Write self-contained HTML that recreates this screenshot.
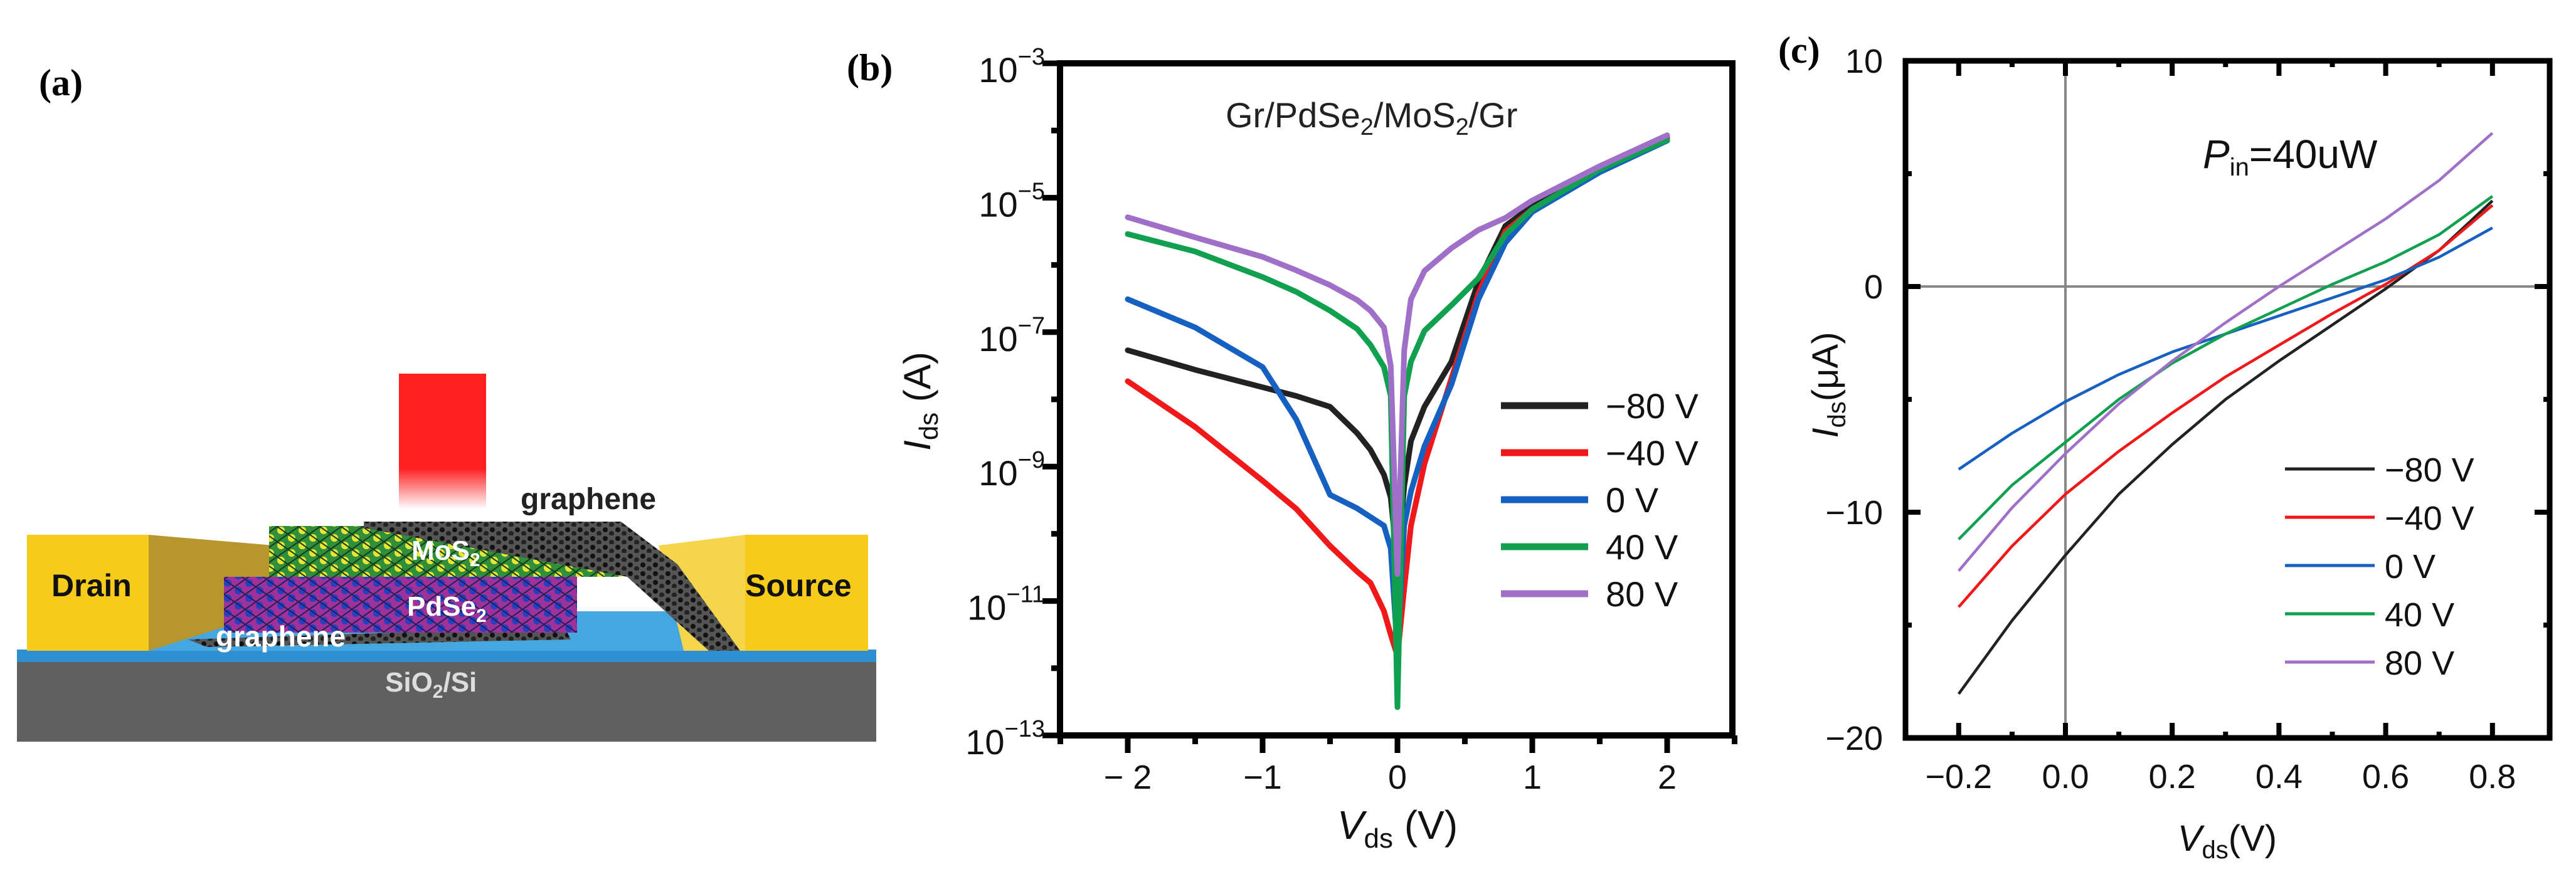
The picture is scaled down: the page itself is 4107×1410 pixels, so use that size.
<!DOCTYPE html>
<html><head><meta charset="utf-8"><style>
html,body{margin:0;padding:0;background:#fff;}
svg{display:block;}
text{font-family:"Liberation Sans",sans-serif;}
.ser{font-family:"Liberation Serif",serif;font-weight:bold;}
</style></head><body>
<svg id="fig" width="4107" height="1410" viewBox="0 0 4107 1410" xmlns="http://www.w3.org/2000/svg">
<defs>
<linearGradient id="beam" x1="0" y1="0" x2="0" y2="1">
<stop offset="0" stop-color="#ff2020"/><stop offset="0.7" stop-color="#ff2020"/><stop offset="1" stop-color="#ff2020" stop-opacity="0"/></linearGradient>
<pattern id="mos" width="34" height="24" patternUnits="userSpaceOnUse"><rect width="34" height="24" fill="#2f8f3a"/><circle cx="6" cy="6" r="6" fill="#e6e633"/><circle cx="23" cy="18" r="6" fill="#e6e633"/><path d="M0 0L34 24M34 0L0 24" stroke="#1a3a1a" stroke-width="2"/></pattern>
<pattern id="pdse" width="34" height="24" patternUnits="userSpaceOnUse"><rect width="34" height="24" fill="#a0309a"/><circle cx="6" cy="6" r="6" fill="#2540c0"/><circle cx="23" cy="18" r="6" fill="#2540c0"/><path d="M0 0L34 24M34 0L0 24" stroke="#20205a" stroke-width="2"/></pattern>
<pattern id="gra" width="20" height="14" patternUnits="userSpaceOnUse"><rect width="20" height="14" fill="#555"/><circle cx="5" cy="5" r="4" fill="#111"/><circle cx="15" cy="11" r="4" fill="#222"/></pattern>
</defs>

<g>
<text x="62" y="152" class="ser" font-size="60">(a)</text>
<rect x="636" y="596" width="139" height="216" fill="url(#beam)"/>
<rect x="27" y="1054" width="1370" height="129" fill="#606060"/>
<rect x="27" y="1036" width="1370" height="20" fill="#2f8fd0"/>
<polygon points="237,1038 330,975 1250,975 1384,1038" fill="#45a6e0"/>
<rect x="43" y="853" width="194" height="185" fill="#f6cb1c"/>
<polygon points="237,853 437,870 437,975 237,1038" fill="#b8962e"/>
<rect x="1188" y="853" width="196" height="185" fill="#f6cb1c"/>
<polygon points="1050,870 1188,853 1188,1038 1090,1038" fill="#f5d54c"/>
<polygon points="300,1020 900,1000 910,1020 330,1032" fill="url(#gra)"/>
<rect x="357" y="920" width="563" height="89" fill="url(#pdse)"/>
<rect x="429" y="839" width="562" height="81" fill="url(#mos)"/>
<polygon points="580,832 990,832 1080,900 1180,1038 1130,1038 1000,920 580,842" fill="url(#gra)"/>
<text x="830" y="812" font-size="48" font-weight="bold" fill="#222">graphene</text>
<text x="656" y="893" font-size="44" font-weight="bold" fill="#fff">MoS<tspan font-size="30" dy="10">2</tspan></text>
<text x="649" y="982" font-size="44" font-weight="bold" fill="#fff">PdSe<tspan font-size="30" dy="10">2</tspan></text>
<text x="344" y="1031" font-size="46" font-weight="bold" fill="#fff">graphene</text>
<text x="82" y="951" font-size="50" font-weight="bold" fill="#111">Drain</text>
<text x="1188" y="951" font-size="50" font-weight="bold" fill="#111">Source</text>
<text x="614" y="1103" font-size="44" font-weight="bold" fill="#ddd">SiO<tspan font-size="30" dy="10">2</tspan><tspan dy="-10">/Si</tspan></text>
</g>

<g id="pb"></g>
<g id="pc"></g>
</svg>
<script>
// ---------- Panel (b) data ----------
const bX = [-2,-1.5,-1,-0.75,-0.5,-0.3,-0.2,-0.1,-0.05,0,0.05,0.1,0.2,0.4,0.6,0.8,1,1.5,2];
const bNeg80 = [-7.27,-7.56,-7.82,-7.95,-8.11,-8.5,-8.75,-9.12,-9.46,-10.47,-9.29,-8.62,-8.11,-7.44,-6.25,-5.42,-5.12,-4.58,-4.11];
const bNeg40 = [-7.73,-8.41,-9.21,-9.63,-10.18,-10.56,-10.73,-11.15,-11.5,-11.82,-10.81,-9.88,-8.96,-7.69,-6.43,-5.5,-5.17,-4.58,-4.11];
const b0 = [-6.51,-6.93,-7.52,-8.3,-9.42,-9.62,-9.75,-9.88,-10.22,-11.74,-9.88,-9.37,-8.7,-7.78,-6.51,-5.67,-5.21,-4.62,-4.15];
const b40 = [-5.54,-5.8,-6.18,-6.4,-6.68,-6.95,-7.19,-7.52,-7.95,-12.58,-7.95,-7.44,-6.98,-6.6,-6.2,-5.55,-5.17,-4.58,-4.14];
const b80 = [-5.29,-5.59,-5.88,-6.08,-6.3,-6.52,-6.68,-6.93,-7.5,-10.6,-7.27,-6.51,-6.09,-5.75,-5.48,-5.3,-5.04,-4.53,-4.07];
const bSeriesNames = ["−80 V","−40 V","0 V","40 V","80 V"];
const bXTicks = [-2,-1,0,1,2];
const bXTickLabels = ["− 2","−1","0","1","2"];
const bYTicks = [-3,-5,-7,-9,-11,-13];
// ---------- Panel (c) data ----------
const cX = [-0.2,-0.1,0,0.1,0.2,0.3,0.4,0.5,0.6,0.7,0.8];
const cNeg80 = [-18.05,-14.8,-11.9,-9.2,-7.0,-5.0,-3.3,-1.7,-0.1,1.6,3.8];
const cNeg40 = [-14.2,-11.5,-9.2,-7.3,-5.6,-4.0,-2.6,-1.2,0.1,1.6,3.6];
const c0 = [-8.1,-6.5,-5.1,-3.9,-2.9,-2.1,-1.3,-0.5,0.3,1.3,2.6];
const c40 = [-11.2,-8.8,-6.9,-5.0,-3.4,-2.1,-1.0,0.1,1.1,2.3,4.0];
const c80 = [-12.6,-9.8,-7.4,-5.2,-3.3,-1.6,0.0,1.5,3.0,4.7,6.8];
const cSeriesNames = ["−80 V","−40 V","0 V","40 V","80 V"];
const cXTicks = [-0.2,0,0.2,0.4,0.6,0.8];
const cXTickLabels = ["−0.2","0.0","0.2","0.4","0.6","0.8"];
const cYTicks = [10,0,-10,-20];
const cYTickLabels = ["10","0","−10","−20"];
const colors = ["#222222","#f01818","#1560c0","#10a050","#a070c8"];

const NS="http://www.w3.org/2000/svg";
function mk(tag,attrs,parent){const e=document.createElementNS(NS,tag);for(const k in attrs)e.setAttribute(k,attrs[k]);parent.appendChild(e);return e;}

(function(){
const g=document.getElementById('pb');
const L=1690,R=2762,T=101,B=1173;
const xs=v=>2228+v*215;
const ys=l=>T+(-3-l)*107.2;
const lab=mk('text',{x:1350,y:128,'font-size':60,'class':'ser'},g);
lab.textContent='(b)';


const fr=mk('rect',{x:L,y:T,width:R-L,height:B-T,fill:'none',stroke:'#000','stroke-width':10},g);


for(let v=-2.5;v<=2.5;v+=0.5){
  const major=Math.abs(v-Math.round(v))<1e-6 && Math.abs(v)<=2;
  const t=mk('line',{x1:xs(v),x2:xs(v),y1:B,y2:B+(major?28:14),stroke:'#000','stroke-width':9},g);
  
  
}
bXTicks.forEach((v,i)=>{
  const t=mk('text',{x:xs(v),y:1258,'font-size':54,'text-anchor':'middle',fill:'#111'},g);
  t.textContent=bXTickLabels[i];
  
  
});
for(let d=-3;d>=-13;d--){
  const major=(d%2!==0);
  const t=mk('line',{x1:L,x2:L-(major?28:14),y1:ys(d),y2:ys(d),stroke:'#000','stroke-width':9},g);
  
  
}
bYTicks.forEach(d=>{
  const t=mk('text',{x:1666,y:ys(d)+30,'font-size':56,'text-anchor':'end',fill:'#111'},g);
  t.innerHTML='10<tspan font-size="38" dy="-28">−'+(-d)+'</tspan>';
  
  
});
const series=[bNeg80,bNeg40,b0,b40,b80];
series.forEach((s,i)=>{
  const pts=bX.map((v,j)=>xs(v).toFixed(1)+','+ys(s[j]).toFixed(1)).join(' ');
  const p=mk('polyline',{points:pts,fill:'none',stroke:colors[i],'stroke-width':9,'stroke-linejoin':'round','stroke-linecap':'round'},g);
  
  
});
bSeriesNames.forEach((n,i)=>{
  const y=647+i*75;
  const l=mk('line',{x1:2393,x2:2532,y1:y,y2:y,stroke:colors[i],'stroke-width':11},g);
  
  
  const t=mk('text',{x:2560,y:y+20,'font-size':56,fill:'#111'},g);
  t.textContent=n;
  
  
});
const ti=mk('text',{x:1954,y:203,'font-size':56,fill:'#222'},g);
ti.innerHTML='Gr/PdSe<tspan font-size="38" dy="12">2</tspan><tspan dy="-12">/MoS</tspan><tspan font-size="38" dy="12">2</tspan><tspan dy="-12">/Gr</tspan>';


const yl=mk('text',{x:0,y:0,'font-size':60,'text-anchor':'middle',fill:'#111',transform:'translate(1483,640) rotate(-90)'},g);
yl.innerHTML='<tspan font-style="italic">I</tspan><tspan font-size="42" dy="12">ds</tspan><tspan dy="-12"> (A)</tspan>';


const xl=mk('text',{x:2228,y:1338,'font-size':64,'text-anchor':'middle',fill:'#111'},g);
xl.innerHTML='<tspan font-style="italic">V</tspan><tspan font-size="44" dy="14">ds</tspan><tspan dy="-14"> (V)</tspan>';


})();

(function(){
const g=document.getElementById('pc');
const L=3038,R=4065,T=97,B=1177;
const xs=v=>3293+v*851;
const ys=v=>457-v*36;
const lab=mk('text',{x:2835,y:100,'font-size':60,'class':'ser'},g);
lab.textContent='(c)';


const gx=mk('line',{x1:xs(0),x2:xs(0),y1:T,y2:B,stroke:'#888','stroke-width':4},g);


const gy=mk('line',{x1:L,x2:R,y1:ys(0),y2:ys(0),stroke:'#888','stroke-width':4},g);


const fr=mk('rect',{x:L,y:T,width:R-L,height:B-T,fill:'none',stroke:'#000','stroke-width':9},g);


for(let k=-2;k<=8;k++){
  const v=k/10, major=(k%2===0), len=major?24:10;
  [[B,B-len],[T,T+len]].forEach(([a,b])=>{
    const t=mk('line',{x1:xs(v),x2:xs(v),y1:a,y2:b,stroke:'#000','stroke-width':8},g);
    
    
  });
}
for(let v=-20;v<=10;v+=5){
  const major=(v%10===0), len=major?24:10;
  [[L,L+len],[R,R-len]].forEach(([a,b])=>{
    const t=mk('line',{x1:a,x2:b,y1:ys(v),y2:ys(v),stroke:'#000','stroke-width':8},g);
    
    
  });
}
cXTicks.forEach((v,i)=>{
  const t=mk('text',{x:xs(v),y:1257,'font-size':54,'text-anchor':'middle',fill:'#111'},g);
  t.textContent=cXTickLabels[i];
  
  
});
cYTicks.forEach((v,i)=>{
  const t=mk('text',{x:3002,y:ys(v)+19,'font-size':54,'text-anchor':'end',fill:'#111'},g);
  t.textContent=cYTickLabels[i];
  
  
});
const series=[cNeg80,cNeg40,c0,c40,c80];
series.forEach((s,i)=>{
  const pts=cX.map((v,j)=>xs(v).toFixed(1)+','+ys(s[j]).toFixed(1)).join(' ');
  const p=mk('polyline',{points:pts,fill:'none',stroke:colors[i],'stroke-width':4.5,'stroke-linejoin':'round'},g);
  
  
});
cSeriesNames.forEach((n,i)=>{
  const y=748+i*77;
  const l=mk('line',{x1:3643,x2:3786,y1:y,y2:y,stroke:colors[i],'stroke-width':5},g);
  
  
  const t=mk('text',{x:3802,y:y+20,'font-size':54,fill:'#111'},g);
  t.textContent=n;
  
  
});
const pin=mk('text',{x:3512,y:268,'font-size':64,fill:'#111'},g);
pin.innerHTML='<tspan font-style="italic">P</tspan><tspan font-size="40" dy="12">in</tspan><tspan dy="-12">=40uW</tspan>';


const yl=mk('text',{x:0,y:0,'font-size':58,'text-anchor':'middle',fill:'#111',transform:'translate(2930,614) rotate(-90)'},g);
yl.innerHTML='<tspan font-style="italic">I</tspan><tspan font-size="40" dy="12">ds</tspan><tspan dy="-12">(μA)</tspan>';


const xl=mk('text',{x:3551,y:1357,'font-size':58,'text-anchor':'middle',fill:'#111'},g);
xl.innerHTML='<tspan font-style="italic">V</tspan><tspan font-size="40" dy="12">ds</tspan><tspan dy="-12">(V)</tspan>';


})();
</script>
</body></html>
